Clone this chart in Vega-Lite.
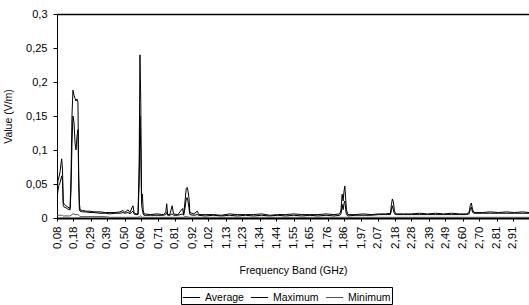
{
  "$schema": "https://vega.github.io/schema/vega-lite/v6.json",
  "width": 472,
  "height": 204,
  "autosize": "none",
  "padding": {"left": 57, "top": 14, "right": 0, "bottom": 87},
  "background": "white",
  "config": {
    "font": "Liberation Sans",
    "view": {"stroke": null},
    "axis": {"labelFont": "Liberation Sans", "titleFont": "Liberation Sans", "labelColor": "black", "titleColor": "black", "domainColor": "black", "tickColor": "black", "titleFontWeight": "normal"}
  },
  "data": {
    "values": [
      {"f":0.080,"Average":0.028,"Maximum":0.038,"Minimum":0.004},
      {"f":0.086,"Average":0.040,"Maximum":0.055,"Minimum":0.004},
      {"f":0.092,"Average":0.048,"Maximum":0.060,"Minimum":0.004},
      {"f":0.099,"Average":0.052,"Maximum":0.068,"Minimum":0.004},
      {"f":0.105,"Average":0.058,"Maximum":0.080,"Minimum":0.004},
      {"f":0.109,"Average":0.062,"Maximum":0.087,"Minimum":0.004},
      {"f":0.114,"Average":0.055,"Maximum":0.072,"Minimum":0.004},
      {"f":0.119,"Average":0.018,"Maximum":0.023,"Minimum":0.003},
      {"f":0.125,"Average":0.016,"Maximum":0.020,"Minimum":0.003},
      {"f":0.136,"Average":0.015,"Maximum":0.018,"Minimum":0.003},
      {"f":0.148,"Average":0.013,"Maximum":0.016,"Minimum":0.003},
      {"f":0.161,"Average":0.012,"Maximum":0.014,"Minimum":0.003},
      {"f":0.167,"Average":0.040,"Maximum":0.060,"Minimum":0.004},
      {"f":0.173,"Average":0.110,"Maximum":0.150,"Minimum":0.005},
      {"f":0.179,"Average":0.150,"Maximum":0.188,"Minimum":0.006},
      {"f":0.186,"Average":0.140,"Maximum":0.180,"Minimum":0.006},
      {"f":0.192,"Average":0.110,"Maximum":0.176,"Minimum":0.005},
      {"f":0.198,"Average":0.100,"Maximum":0.172,"Minimum":0.005},
      {"f":0.204,"Average":0.120,"Maximum":0.175,"Minimum":0.005},
      {"f":0.210,"Average":0.130,"Maximum":0.170,"Minimum":0.005},
      {"f":0.215,"Average":0.050,"Maximum":0.060,"Minimum":0.004},
      {"f":0.219,"Average":0.012,"Maximum":0.022,"Minimum":0.003},
      {"f":0.223,"Average":0.010,"Maximum":0.012,"Minimum":0.002},
      {"f":0.240,"Average":0.009,"Maximum":0.011,"Minimum":0.002},
      {"f":0.260,"Average":0.009,"Maximum":0.010,"Minimum":0.002},
      {"f":0.285,"Average":0.008,"Maximum":0.010,"Minimum":0.002},
      {"f":0.310,"Average":0.008,"Maximum":0.009,"Minimum":0.002},
      {"f":0.347,"Average":0.007,"Maximum":0.009,"Minimum":0.002},
      {"f":0.380,"Average":0.007,"Maximum":0.008,"Minimum":0.002},
      {"f":0.409,"Average":0.006,"Maximum":0.008,"Minimum":0.001},
      {"f":0.440,"Average":0.007,"Maximum":0.008,"Minimum":0.001},
      {"f":0.471,"Average":0.007,"Maximum":0.009,"Minimum":0.001},
      {"f":0.490,"Average":0.008,"Maximum":0.011,"Minimum":0.001},
      {"f":0.500,"Average":0.007,"Maximum":0.008,"Minimum":0.001},
      {"f":0.521,"Average":0.008,"Maximum":0.012,"Minimum":0.001},
      {"f":0.533,"Average":0.006,"Maximum":0.008,"Minimum":0.001},
      {"f":0.545,"Average":0.009,"Maximum":0.015,"Minimum":0.001},
      {"f":0.552,"Average":0.010,"Maximum":0.018,"Minimum":0.001},
      {"f":0.558,"Average":0.006,"Maximum":0.008,"Minimum":0.001},
      {"f":0.570,"Average":0.005,"Maximum":0.006,"Minimum":0.001},
      {"f":0.583,"Average":0.005,"Maximum":0.006,"Minimum":0.001},
      {"f":0.590,"Average":0.050,"Maximum":0.080,"Minimum":0.002},
      {"f":0.595,"Average":0.150,"Maximum":0.240,"Minimum":0.003},
      {"f":0.600,"Average":0.100,"Maximum":0.170,"Minimum":0.003},
      {"f":0.605,"Average":0.020,"Maximum":0.030,"Minimum":0.002},
      {"f":0.610,"Average":0.012,"Maximum":0.035,"Minimum":0.001},
      {"f":0.615,"Average":0.006,"Maximum":0.012,"Minimum":0.001},
      {"f":0.620,"Average":0.004,"Maximum":0.006,"Minimum":0.001},
      {"f":0.660,"Average":0.004,"Maximum":0.005,"Minimum":0.001},
      {"f":0.700,"Average":0.004,"Maximum":0.006,"Minimum":0.001},
      {"f":0.740,"Average":0.004,"Maximum":0.005,"Minimum":0.001},
      {"f":0.755,"Average":0.005,"Maximum":0.008,"Minimum":0.001},
      {"f":0.761,"Average":0.008,"Maximum":0.021,"Minimum":0.001},
      {"f":0.767,"Average":0.004,"Maximum":0.005,"Minimum":0.001},
      {"f":0.780,"Average":0.004,"Maximum":0.005,"Minimum":0.001},
      {"f":0.795,"Average":0.006,"Maximum":0.018,"Minimum":0.001},
      {"f":0.803,"Average":0.004,"Maximum":0.006,"Minimum":0.001},
      {"f":0.830,"Average":0.004,"Maximum":0.005,"Minimum":0.001},
      {"f":0.860,"Average":0.006,"Maximum":0.014,"Minimum":0.001},
      {"f":0.866,"Average":0.004,"Maximum":0.005,"Minimum":0.001},
      {"f":0.875,"Average":0.015,"Maximum":0.025,"Minimum":0.002},
      {"f":0.882,"Average":0.028,"Maximum":0.043,"Minimum":0.002},
      {"f":0.888,"Average":0.030,"Maximum":0.045,"Minimum":0.002},
      {"f":0.893,"Average":0.025,"Maximum":0.040,"Minimum":0.002},
      {"f":0.899,"Average":0.015,"Maximum":0.030,"Minimum":0.001},
      {"f":0.905,"Average":0.005,"Maximum":0.008,"Minimum":0.001},
      {"f":0.930,"Average":0.004,"Maximum":0.006,"Minimum":0.001},
      {"f":0.951,"Average":0.005,"Maximum":0.010,"Minimum":0.001},
      {"f":0.960,"Average":0.004,"Maximum":0.005,"Minimum":0.001},
      {"f":1.000,"Average":0.003,"Maximum":0.005,"Minimum":0.001},
      {"f":1.050,"Average":0.004,"Maximum":0.005,"Minimum":0.001},
      {"f":1.100,"Average":0.003,"Maximum":0.004,"Minimum":0.001},
      {"f":1.150,"Average":0.004,"Maximum":0.006,"Minimum":0.001},
      {"f":1.200,"Average":0.003,"Maximum":0.005,"Minimum":0.001},
      {"f":1.250,"Average":0.004,"Maximum":0.005,"Minimum":0.001},
      {"f":1.300,"Average":0.003,"Maximum":0.005,"Minimum":0.001},
      {"f":1.350,"Average":0.004,"Maximum":0.006,"Minimum":0.001},
      {"f":1.400,"Average":0.003,"Maximum":0.004,"Minimum":0.001},
      {"f":1.450,"Average":0.004,"Maximum":0.005,"Minimum":0.001},
      {"f":1.500,"Average":0.003,"Maximum":0.005,"Minimum":0.001},
      {"f":1.550,"Average":0.004,"Maximum":0.006,"Minimum":0.001},
      {"f":1.600,"Average":0.003,"Maximum":0.005,"Minimum":0.001},
      {"f":1.650,"Average":0.004,"Maximum":0.005,"Minimum":0.001},
      {"f":1.700,"Average":0.003,"Maximum":0.005,"Minimum":0.001},
      {"f":1.750,"Average":0.004,"Maximum":0.006,"Minimum":0.001},
      {"f":1.800,"Average":0.003,"Maximum":0.005,"Minimum":0.001},
      {"f":1.835,"Average":0.004,"Maximum":0.006,"Minimum":0.001},
      {"f":1.843,"Average":0.006,"Maximum":0.012,"Minimum":0.001},
      {"f":1.850,"Average":0.020,"Maximum":0.035,"Minimum":0.001},
      {"f":1.856,"Average":0.012,"Maximum":0.025,"Minimum":0.001},
      {"f":1.862,"Average":0.022,"Maximum":0.040,"Minimum":0.001},
      {"f":1.867,"Average":0.025,"Maximum":0.047,"Minimum":0.001},
      {"f":1.872,"Average":0.012,"Maximum":0.028,"Minimum":0.001},
      {"f":1.877,"Average":0.005,"Maximum":0.012,"Minimum":0.001},
      {"f":1.885,"Average":0.003,"Maximum":0.005,"Minimum":0.001},
      {"f":1.930,"Average":0.004,"Maximum":0.005,"Minimum":0.001},
      {"f":1.980,"Average":0.004,"Maximum":0.006,"Minimum":0.001},
      {"f":2.030,"Average":0.004,"Maximum":0.005,"Minimum":0.001},
      {"f":2.080,"Average":0.005,"Maximum":0.006,"Minimum":0.001},
      {"f":2.120,"Average":0.005,"Maximum":0.006,"Minimum":0.001},
      {"f":2.150,"Average":0.005,"Maximum":0.007,"Minimum":0.001},
      {"f":2.156,"Average":0.012,"Maximum":0.020,"Minimum":0.001},
      {"f":2.162,"Average":0.018,"Maximum":0.028,"Minimum":0.001},
      {"f":2.168,"Average":0.012,"Maximum":0.024,"Minimum":0.001},
      {"f":2.175,"Average":0.006,"Maximum":0.010,"Minimum":0.001},
      {"f":2.185,"Average":0.005,"Maximum":0.006,"Minimum":0.001},
      {"f":2.230,"Average":0.005,"Maximum":0.006,"Minimum":0.001},
      {"f":2.280,"Average":0.005,"Maximum":0.006,"Minimum":0.001},
      {"f":2.330,"Average":0.005,"Maximum":0.007,"Minimum":0.001},
      {"f":2.380,"Average":0.005,"Maximum":0.006,"Minimum":0.001},
      {"f":2.430,"Average":0.005,"Maximum":0.007,"Minimum":0.001},
      {"f":2.480,"Average":0.005,"Maximum":0.006,"Minimum":0.001},
      {"f":2.530,"Average":0.005,"Maximum":0.007,"Minimum":0.001},
      {"f":2.580,"Average":0.005,"Maximum":0.006,"Minimum":0.001},
      {"f":2.620,"Average":0.005,"Maximum":0.006,"Minimum":0.001},
      {"f":2.638,"Average":0.006,"Maximum":0.008,"Minimum":0.001},
      {"f":2.645,"Average":0.012,"Maximum":0.018,"Minimum":0.001},
      {"f":2.652,"Average":0.016,"Maximum":0.022,"Minimum":0.001},
      {"f":2.660,"Average":0.008,"Maximum":0.012,"Minimum":0.001},
      {"f":2.670,"Average":0.007,"Maximum":0.008,"Minimum":0.001},
      {"f":2.720,"Average":0.007,"Maximum":0.008,"Minimum":0.001},
      {"f":2.770,"Average":0.007,"Maximum":0.009,"Minimum":0.001},
      {"f":2.820,"Average":0.007,"Maximum":0.008,"Minimum":0.001},
      {"f":2.870,"Average":0.007,"Maximum":0.009,"Minimum":0.001},
      {"f":2.920,"Average":0.007,"Maximum":0.008,"Minimum":0.001},
      {"f":2.970,"Average":0.007,"Maximum":0.009,"Minimum":0.001},
      {"f":3.010,"Average":0.007,"Maximum":0.008,"Minimum":0.001}
    ]
  },
  "transform": [{"fold": ["Average", "Maximum", "Minimum"], "as": ["Series", "v"]}],
  "mark": {"type": "line", "strokeWidth": 1, "clip": true},
  "encoding": {
    "x": {
      "field": "f", "type": "quantitative",
      "scale": {"domain": [0.08, 3.01], "nice": false, "zero": false},
      "axis": {
        "title": "Frequency Band (GHz)",
        "values": [0.08,0.18,0.29,0.39,0.50,0.60,0.71,0.81,0.92,1.02,1.13,1.23,1.34,1.44,1.55,1.65,1.76,1.86,1.97,2.07,2.18,2.28,2.39,2.49,2.60,2.70,2.81,2.91],
        "labelExpr": "replace(format(datum.value, '.2f'), '.', ',')",
        "labelAngle": 270,
        "labelAlign": "right",
        "labelBaseline": "middle",
        "labelFontSize": 11.5,
        "labelPadding": 5,
        "tickSize": 3,
        "domainWidth": 2,
        "grid": false,
        "titleFontSize": 10.5,
        "titlePadding": 17
      }
    },
    "y": {
      "field": "v", "type": "quantitative",
      "scale": {"domain": [0, 0.3], "nice": false},
      "axis": {
        "title": "Value (V/m)",
        "values": [0, 0.05, 0.1, 0.15, 0.2, 0.25, 0.3],
        "labelExpr": "replace(toString(datum.value), '.', ',')",
        "labelFontSize": 11,
        "labelPadding": 6,
        "tickSize": 4,
        "grid": true,
        "gridColor": {"condition": {"test": "datum.value === 0.3", "value": "black"}, "value": "transparent"},
        "gridWidth": 1.5,
        "titleFontSize": 10.5,
        "titlePadding": 12
      }
    },
    "color": {
      "field": "Series", "type": "nominal",
      "scale": {"domain": ["Average", "Maximum", "Minimum"], "range": ["#000000", "#000000", "#555555"]},
      "legend": {
        "title": null,
        "orient": "none",
        "legendX": 124,
        "legendY": 273,
        "direction": "horizontal",
        "columns": 3,
        "symbolType": "stroke",
        "symbolSize": 300,
        "symbolStrokeWidth": 1,
        "labelFontSize": 10.5,
        "labelFont": "Liberation Sans",
        "labelColor": "black",
        "columnPadding": 4,
        "strokeColor": "black",
        "padding": 1
      }
    }
  }
}
